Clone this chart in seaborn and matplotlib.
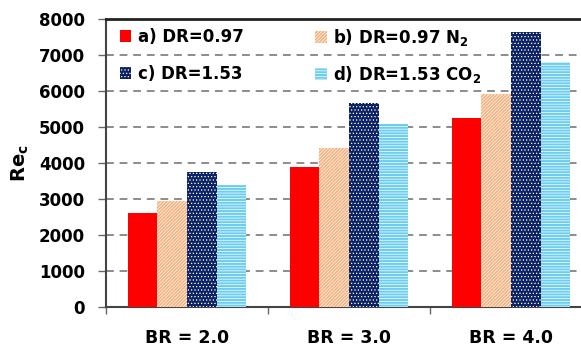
import matplotlib
matplotlib.use("Agg")
import matplotlib.pyplot as plt
import seaborn as sns
import pandas as pd
from matplotlib.patches import Patch
from matplotlib.legend import Legend

categories = ["BR = 2.0", "BR = 3.0", "BR = 4.0"]
series = ["a) DR=0.97", "b) DR=0.97 N$_\\mathbf{2}$", "c) DR=1.53", "d) DR=1.53 CO$_\\mathbf{2}$"]
vals_a = [2610, 3900, 5260]
vals_b = [2950, 4410, 5920]
vals_c = [3760, 5680, 7650]
vals_d = [3390, 5080, 6810]
yticks = [0, 1000, 2000, 3000, 4000, 5000, 6000, 7000, 8000]

colors = ["#FF0000", "#F6B07C", "#0D2262", "#6DCDF0"]
hatches = [None, "//////////", ".....", "------"]

rows = []
for s, v in zip(series, [vals_a, vals_b, vals_c, vals_d]):
    for c, x in zip(categories, v):
        rows.append({"BR": c, "Series": s, "Re": x})
df = pd.DataFrame(rows)

sns.set_theme(style="white")
plt.rcParams["font.family"] = ["DejaVu Sans"]
plt.rcParams["hatch.linewidth"] = 0.5
plt.rcParams["mathtext.fontset"] = "dejavusans"
plt.rcParams["text.color"] = "black"
plt.rcParams["xtick.color"] = "black"
plt.rcParams["ytick.color"] = "black"
plt.rcParams["axes.labelcolor"] = "black"

fig = plt.figure(figsize=(5.81, 3.47), dpi=100)
ax = fig.add_axes([106 / 581, 40 / 347, 486 / 581, 288 / 347])

sns.barplot(data=df, x="BR", y="Re", hue="Series", hue_order=series,
            order=categories, palette=colors, width=0.73, gap=0,
            saturation=1, errorbar=None, ax=ax, legend=False)

for cont, h in zip(ax.containers, hatches):
    for bar in cont:
        bar.set_linewidth(0)
        bar.set_zorder(3)
        if h:
            bar.set_hatch(h)
            bar.set_edgecolor("white")

ax.set_xlim(-0.5, 2.5)
ax.set_ylim(0, 8000)
ax.set_yticks(yticks)
ax.set_yticklabels([str(t) for t in yticks], fontsize=12, fontweight="bold")
ax.set_xticks(range(len(categories)))
ax.set_xticklabels(categories, fontsize=12.5, fontweight="bold")
ax.set_xticks([-0.5, 0.5, 1.5, 2.5], minor=True)
ax.tick_params(axis="x", which="major", length=0, pad=16)
ax.tick_params(axis="x", which="minor", length=5, width=1, color="#666666", bottom=True)
ax.tick_params(axis="y", which="major", length=6, width=1, color="#666666", left=True, pad=9)

for y in yticks[1:-1]:
    ax.axhline(y, color="#8c8c8c", lw=1.4, ls=(0, (4, 3)), zorder=1)

ax.set_xlabel("")
ax.set_ylabel("Re$_\\mathbf{c}$", fontsize=14, fontweight="bold", labelpad=6)

for side in ["left", "top", "bottom", "right"]:
    ax.spines[side].set_visible(True)
ax.spines["left"].set_color("#444444")
ax.spines["left"].set_linewidth(1.5)
ax.spines["top"].set_color("#222222")
ax.spines["top"].set_linewidth(2)
ax.spines["bottom"].set_color("#444444")
ax.spines["bottom"].set_linewidth(1.5)

handles = [Patch(facecolor=c, hatch=h, edgecolor=("white" if h else c), linewidth=0)
           for c, h in zip(colors, hatches)]
anchors = [(0.028, 0.9375), (0.43, 0.9375), (0.028, 0.809), (0.43, 0.809)]
for hnd, lab, anc in zip(handles, series, anchors):
    lg = Legend(ax, [hnd], [lab], loc="center left", bbox_to_anchor=anc,
                frameon=False, borderaxespad=0, borderpad=0,
                handlelength=0.7, handleheight=0.7, handletextpad=0.4,
                prop={"weight": "bold", "size": 12})
    lg.set_zorder(5)
    ax.add_artist(lg)

fig.savefig("out.png", dpi=100)
